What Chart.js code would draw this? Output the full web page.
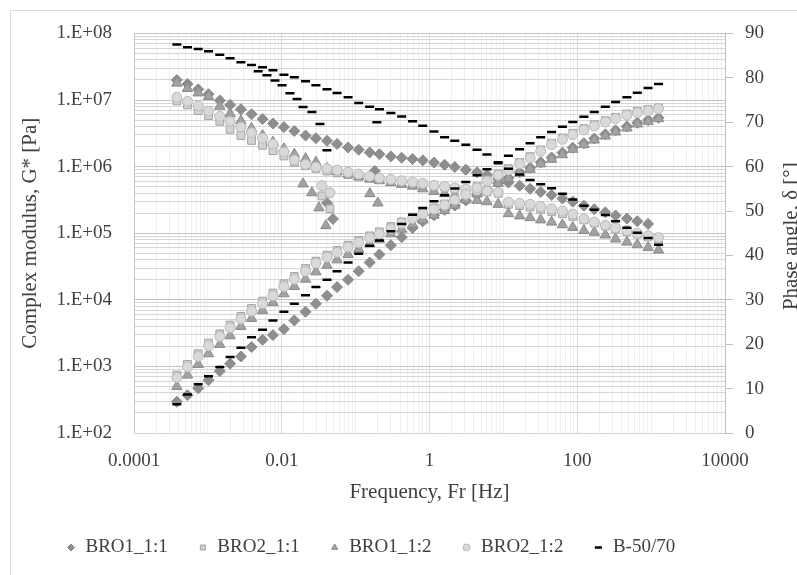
<!DOCTYPE html>
<html>
<head>
<meta charset="utf-8">
<script src="https://cdn.jsdelivr.net/npm/chart.js@4.4.0/dist/chart.umd.min.js"></script>
<style>
  html, body { margin: 0; padding: 0; background: #fff; overflow: hidden; width: 797px; height: 575px; }
  #frame { position: absolute; left: 10px; top: 10px; width: 900px; height: 700px; border: 1px solid #d9d9d9; }
  canvas { position: absolute; left: 0; top: 0; }
</style>
</head>
<body>
<div id="frame"></div>
<canvas id="chart" width="805" height="575"></canvas>
<script>
// frequency of the master curve points [Hz]
const freq = [0.00038, 0.00053, 0.00074, 0.00102, 0.00145, 0.002, 0.0028, 0.0039, 0.0055, 0.0076,
  0.0107, 0.0148, 0.021, 0.029, 0.041, 0.056, 0.079, 0.11, 0.155, 0.21,
  0.30, 0.42, 0.59, 0.81, 1.15, 1.6, 2.2, 3.1, 4.4, 6.0,
  8.5, 11.7, 16.6, 23, 32, 45, 63, 87, 123, 170,
  240, 330, 470, 650, 910, 1260];

// complex modulus G* [Pa]
const gBRO1_11 = [295, 370, 470, 620, 850, 1100, 1410, 1950, 2510, 2950,
  3630, 4900, 6610, 8710, 11500, 15500, 20000, 26900, 36300, 47900,
  66100, 87100, 120000, 151000, 186000, 224000, 260000, 310000, 380000, 460000,
  560000, 680000, 820000, 960000, 1160000, 1370000, 1620000, 1920000, 2250000, 2640000,
  3050000, 3500000, 4000000, 4550000, 5000000, 5400000];
const gBRO2_11 = [740, 1070, 1550, 2240, 3090, 4170, 5620, 7410, 9550, 12600,
  17400, 22400, 29500, 38000, 46800, 55000, 66100, 77600, 91200, 105000,
  126000, 148000, 174000, 204000, 240000, 275000, 331000, 398000, 501000, 631000,
  776000, 933000, 1150000, 1410000, 1780000, 2240000, 2690000, 3160000, 3720000, 4270000,
  4900000, 5500000, 6170000, 6760000, 7240000, 7590000];
const gBRO1_12 = [500, 740, 1070, 1550, 2140, 2880, 3980, 5250, 6920, 9120,
  12300, 15800, 20400, 26300, 33100, 39800, 47900, 57500, 69200, 81300,
  97700, 115000, 135000, 158000, 186000, 219000, 263000, 316000, 389000, 468000,
  562000, 661000, 794000, 912000, 1100000, 1290000, 1510000, 1820000, 2140000, 2510000,
  2880000, 3310000, 3800000, 4370000, 4790000, 5250000];
const gBRO2_12 = [680, 980, 1410, 2040, 2820, 3800, 5130, 6760, 8710, 11500,
  15800, 20400, 26900, 35500, 43600, 51300, 61700, 72400, 85100, 97700,
  117000, 141000, 166000, 195000, 229000, 263000, 316000, 380000, 479000, 603000,
  741000, 891000, 1100000, 1350000, 1700000, 2140000, 2570000, 3020000, 3550000, 4070000,
  4680000, 5250000, 5890000, 6460000, 6920000, 7410000];
const gB5070 = [270, 380, 540, 710, 980, 1380, 1900, 2750, 3550, 4900,
  6600, 8700, 11700, 15500, 20000, 26900, 36300, 49000, 64600, 77600,
  107000, 138000, 190000, 240000, 302000, 372000, 468000, 589000, 741000, 912000,
  1120000, 1450000, 1820000, 2240000, 2750000, 3310000, 3980000, 4680000, 5620000, 6610000,
  7940000, 9330000, 11000000, 12900000, 15100000, 17400000];

// phase angle δ [°]
const pBRO1_11 = [79.5, 78.6, 77.4, 76.3, 74.9, 73.9, 72.9, 71.8, 70.7, 69.7,
  68.9, 68.0, 67.0, 66.4, 65.8, 65.1, 64.3, 63.8, 63.2, 62.8,
  62.3, 62.0, 61.7, 61.4, 60.9, 60.4, 59.9, 59.3, 58.7, 58.1,
  57.2, 56.4, 55.7, 55.0, 54.3, 53.6, 52.8, 52.1, 51.2, 50.4,
  49.7, 49.0, 48.3, 47.7, 47.1, null];
const pBRO2_11 = [74.8, 73.9, 72.6, 71.5, 70.2, 68.4, 67.0, 65.9, 64.8, 63.6,
  62.4, 61.0, 60.2, 59.6, 59.0, 58.6, 58.2, 57.7, 57.3, 57.0,
  56.7, 56.5, 56.3, 56.0, 55.7, 55.4, 55.1, 54.8, 54.6, 54.3,
  54.0, 51.5, 51.2, 50.9, 50.4, 49.9, 49.4, 48.8, 48.0, 47.3,
  46.6, 46.0, 45.4, 44.8, 44.2, 43.7];
const pBRO1_12 = [78.8, 77.6, 76.6, 75.8, 73.6, 71.9, 70.3, 68.6, 67.0, 65.5,
  64.0, 62.8, 61.8, 61.0, 59.6, 58.9, 58.3, 57.8, 57.3, 56.9,
  56.4, 56.0, 55.6, 55.0, 54.4, 53.9, 53.3, 52.8, 52.4, 52.1,
  51.5, 49.4, 48.9, 48.5, 48.0, 47.5, 46.9, 46.3, 45.6, 45.2,
  44.6, 43.7, 43.0, 42.4, 41.8, 41.2];
const pBRO2_12 = [75.6, 74.7, 73.7, 72.5, 71.3, 70.2, 68.9, 67.6, 66.4, 65.1,
  63.3, 61.5, 60.5, 59.9, 59.5, 59.2, 58.7, 58.3, 57.8, 57.4,
  57.1, 56.8, 56.5, 56.2, 55.8, 55.5, 55.2, 54.9, 54.7, 54.5,
  54.2, 52.0, 51.7, 51.5, 51.0, 50.5, 50.0, 49.3, 48.2, 47.5,
  46.8, 46.2, 45.6, 45.0, 44.4, 44.0];
const pB5070 = [87.5, 86.9, 86.5, 86.0, 85.2, 84.4, 83.5, 82.9, 82.4, 81.7,
  80.7, 80.1, 79.2, 78.3, 77.4, 76.6, 75.6, 74.3, 73.5, 72.9,
  72.1, 71.3, 70.2, 69.2, 67.9, 66.6, 65.8, 64.9, 63.8, 62.7,
  61.0, 59.5, 58.2, 57.0, 56.0, 55.1, 53.9, 52.6, 51.2, 50.3,
  49.1, 47.7, 46.2, 45.1, 43.9, 42.4];

// phase points of the overlapping temperature sweeps (frequency, δ)
const xBRO1_11 = [0.041, 0.0493, 0.182];
const dBRO1_11 = [51.8, 48.2, 59.0];
const xBRO2_11 = [0.035, 0.0449];
const dBRO2_11 = [53.4, 50.5];
const xBRO1_12 = [0.0194, 0.0256, 0.0319, 0.0396, 0.156, 0.200];
const dBRO1_12 = [56.1, 54.1, 50.7, 46.7, 53.9, 51.8];
const xBRO2_12 = [0.035, 0.0449];
const dBRO2_12 = [55.7, 54.1];
const xB5070 = [0.0048, 0.0063, 0.0081, 0.0101, 0.0129, 0.0161, 0.0194, 0.0256, 0.0329, 0.0409, 0.194];
const dB5070 = [81.5, 80.6, 79.4, 78.3, 76.5, 75.2, 73.4, 72.3, 69.6, 63.7, 70.0];

const seriesNames = ['BRO1_1:1', 'BRO2_1:1', 'BRO1_1:2', 'BRO2_1:2', 'B-50/70'];

// tick labels
const xTickValues = [0.0001, 0.01, 1, 100, 10000];
const xTickLabels = ['0.0001', '0.01', '1', '100', '10000'];
const yTickValues = [1e2, 1e3, 1e4, 1e5, 1e6, 1e7, 1e8];
const yTickLabels = ['1.E+02', '1.E+03', '1.E+04', '1.E+05', '1.E+06', '1.E+07', '1.E+08'];

const textColor = '#404040';
Chart.defaults.font.family = '"Liberation Serif", "Times New Roman", serif';
Chart.defaults.color = textColor;

const table = [
  { g: gBRO1_11, p: pBRO1_11, bx: xBRO1_11, bp: dBRO1_11 },
  { g: gBRO2_11, p: pBRO2_11, bx: xBRO2_11, bp: dBRO2_11 },
  { g: gBRO1_12, p: pBRO1_12, bx: xBRO1_12, bp: dBRO1_12 },
  { g: gBRO2_12, p: pBRO2_12, bx: xBRO2_12, bp: dBRO2_12 },
  { g: gB5070, p: pB5070, bx: xB5070, bp: dB5070 }
];

const looks = [
  { pointStyle: 'rectRot', radius: 5.5, bg: '#8e8e8e', border: '#8a8a8a', bw: 1, order: 4 },
  { pointStyle: 'rect', radius: 5.5, bg: '#d3d3d3', border: '#a3a3a3', bw: 1, order: 3 },
  { pointStyle: 'triangle', radius: 6, bg: '#a2a2a2', border: '#8a8a8a', bw: 1, order: 2 },
  { pointStyle: 'circle', radius: 5, bg: '#d9d9d9', border: '#b9b9b9', bw: 1, order: 1 },
  { pointStyle: 'line', radius: 4.5, bg: '#000000', border: '#000000', bw: 2.5, order: 0 }
];

function pts(xs, ys) {
  return xs.map((x, i) => ({ x: x, y: ys[i] })).filter(p => p.y != null);
}

const datasets = [];
table.forEach((s, i) => {
  const lk = looks[i];
  const common = {
    label: seriesNames[i],
    showLine: false,
    pointStyle: lk.pointStyle,
    pointRadius: lk.radius,
    pointHoverRadius: lk.radius,
    backgroundColor: lk.bg,
    borderColor: lk.border,
    borderWidth: lk.bw,
    order: lk.order
  };
  datasets.push(Object.assign({}, common, { yAxisID: 'y', data: pts(freq, s.g) }));
  datasets.push(Object.assign({}, common, { yAxisID: 'y1', data: pts(freq, s.p).concat(pts(s.bx, s.bp)) }));
});

function logTicks(e0, e1) {
  const t = [];
  for (let e = e0; e < e1; e++) {
    for (let m = 1; m <= 9; m++) t.push({ value: m * Math.pow(10, e) });
  }
  t.push({ value: Math.pow(10, e1) });
  return t;
}

function findIdx(v, list) {
  return list.findIndex(t => Math.abs(v / t - 1) < 1e-6);
}

// secondary axis title reads bottom to top, like the primary one
const rightTitle = {
  id: 'rightTitle',
  afterDraw(chart) {
    const ctx = chart.ctx;
    const a = chart.chartArea;
    ctx.save();
    ctx.translate(chart.scales.y1.right - 14, (a.top + a.bottom) / 2 + 3);
    ctx.rotate(-Math.PI / 2);
    ctx.font = '21px "Liberation Serif", serif';
    ctx.fillStyle = textColor;
    ctx.textAlign = 'center';
    ctx.textBaseline = 'middle';
    ctx.fillText('Phase angle, δ [°]', 0, 0);
    ctx.restore();
  }
};

new Chart(document.getElementById('chart'), {
  type: 'scatter',
  data: { datasets: datasets },
  options: {
    responsive: false,
    animation: false,
    devicePixelRatio: 1,
    layout: { padding: { left: 36, top: 32, right: 0, bottom: 17 } },
    plugins: {
      tooltip: { enabled: false },
      legend: {
        position: 'bottom',
        align: 'start',
        maxHeight: 50,
        labels: {
          usePointStyle: true,
          boxWidth: 10,
          boxHeight: 5,
          padding: 30,
          color: textColor,
          font: { size: 19 },
          filter: item => item.datasetIndex % 2 === 0,
          sort: (a, b) => a.datasetIndex - b.datasetIndex
        }
      }
    },
    scales: {
      x: {
        type: 'logarithmic',
        min: 0.0001,
        max: 10000,
        afterBuildTicks: s => { s.ticks = logTicks(-4, 4); },
        afterFit: s => { s.height = 75; },
        ticks: {
          autoSkip: false,
          maxRotation: 0,
          padding: 17,
          font: { size: 19 },
          color: textColor,
          callback: v => { const i = findIdx(v, xTickValues); return i >= 0 ? xTickLabels[i] : ''; }
        },
        grid: {
          drawTicks: false,
          color: c => (c.tick && findIdx(c.tick.value, xTickValues) >= 0) ? '#d9d9d9' : '#efefef'
        },
        border: { color: '#d0d0d0' },
        title: { display: true, text: 'Frequency, Fr [Hz]', font: { size: 21 }, color: textColor, padding: { top: 0, bottom: 3 } }
      },
      y: {
        type: 'logarithmic',
        position: 'left',
        min: 1e2,
        max: 1e8,
        afterBuildTicks: s => { s.ticks = logTicks(2, 8); },
        afterFit: s => { s.width = 98; },
        ticks: {
          autoSkip: false,
          padding: 22,
          font: { size: 19 },
          color: textColor,
          callback: v => { const i = findIdx(v, yTickValues); return i >= 0 ? yTickLabels[i] : ''; }
        },
        grid: {
          drawTicks: false,
          color: c => (c.tick && findIdx(c.tick.value, yTickValues) >= 0) ? '#c4c4c4' : '#d6d6d6'
        },
        border: { color: '#c4c4c4' },
        title: { display: true, text: 'Complex modulus, G* [Pa]', font: { size: 21 }, color: textColor, padding: { top: -18, bottom: 0 } }
      },
      y1: {
        type: 'linear',
        position: 'right',
        min: 0,
        max: 90,
        afterFit: s => { s.width = 80; },
        ticks: { stepSize: 10, padding: 12, font: { size: 19 }, color: textColor },
        grid: { drawOnChartArea: false, drawTicks: true, tickLength: 8, color: '#bfbfbf' },
        border: { color: '#bfbfbf' }
      }
    }
  },
  plugins: [rightTitle]
});
</script>
</body>
</html>
